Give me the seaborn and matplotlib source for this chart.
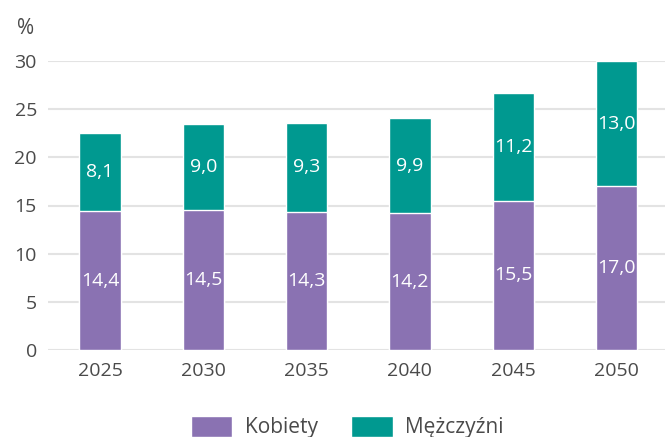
import matplotlib
matplotlib.use('Agg')
import matplotlib.pyplot as plt
import seaborn as sns
import pandas as pd
from matplotlib.patches import Patch

# --- DANE ---
years = ['2025', '2030', '2035', '2040', '2045', '2050']
kobiety = [14.4, 14.5, 14.3, 14.2, 15.5, 17.0]
mezczyzni = [8.1, 9.0, 9.3, 9.9, 11.2, 13.0]

PURPLE = '#8a72b2'
TEAL = '#009990'
GREY = '#4a4a4a'

df = pd.DataFrame({'rok': years, 'kobiety': kobiety, 'mezczyzni': mezczyzni})
df['razem'] = df['kobiety'] + df['mezczyzni']

sns.set_style('white')
plt.rcParams['font.family'] = ['Open Sans', 'DejaVu Sans']

fig = plt.figure(figsize=(6.65, 4.37), dpi=100)
ax = fig.add_axes([48 / 665, 1 - 350 / 437, 1 - 48 / 665, (350 - 61) / 437])

# stos: najpierw suma (mężczyźni na górze), potem kobiety
sns.barplot(data=df, x='rok', y='razem', color=TEAL, width=0.40, saturation=1, ax=ax, zorder=2)
sns.barplot(data=df, x='rok', y='kobiety', color=PURPLE, width=0.40, saturation=1, ax=ax, zorder=3)

for i, row in df.iterrows():
    ax.text(i, row['kobiety'] / 2, f"{row['kobiety']:.1f}".replace('.', ','),
            ha='center', va='center', color='white', fontsize=14, zorder=4)
    ax.text(i, row['kobiety'] + row['mezczyzni'] / 2, f"{row['mezczyzni']:.1f}".replace('.', ','),
            ha='center', va='center', color='white', fontsize=14, zorder=4)

ax.set_ylim(0, 30)
ax.set_xlim(-0.504, 5.47)
ax.set_yticks(range(0, 31, 5))
ax.yaxis.grid(True, color='#e3e3e3', linewidth=1.5, zorder=0)
ax.set_axisbelow(True)
for s in ax.spines.values():
    s.set_visible(False)
ax.tick_params(axis='both', length=0, labelsize=14, colors=GREY)
ax.tick_params(axis='y', pad=8)
ax.tick_params(axis='x', pad=9)
ax.set_xlabel('')
ax.set_ylabel('')
fig.text(26 / 665, 1 - 28 / 437, '%', ha='center', va='center', fontsize=15, color=GREY)

handles = [Patch(facecolor=PURPLE, label='Kobiety'), Patch(facecolor=TEAL, label='Mężczyźni')]
fig.legend(handles=handles, loc='center', bbox_to_anchor=(0.522, 1 - 427 / 437), ncol=2,
           frameon=False, fontsize=15, labelcolor=GREY, handlelength=2.0, handleheight=1.2,
           columnspacing=1.6, handletextpad=0.6)

fig.savefig('out.png', dpi=100)
